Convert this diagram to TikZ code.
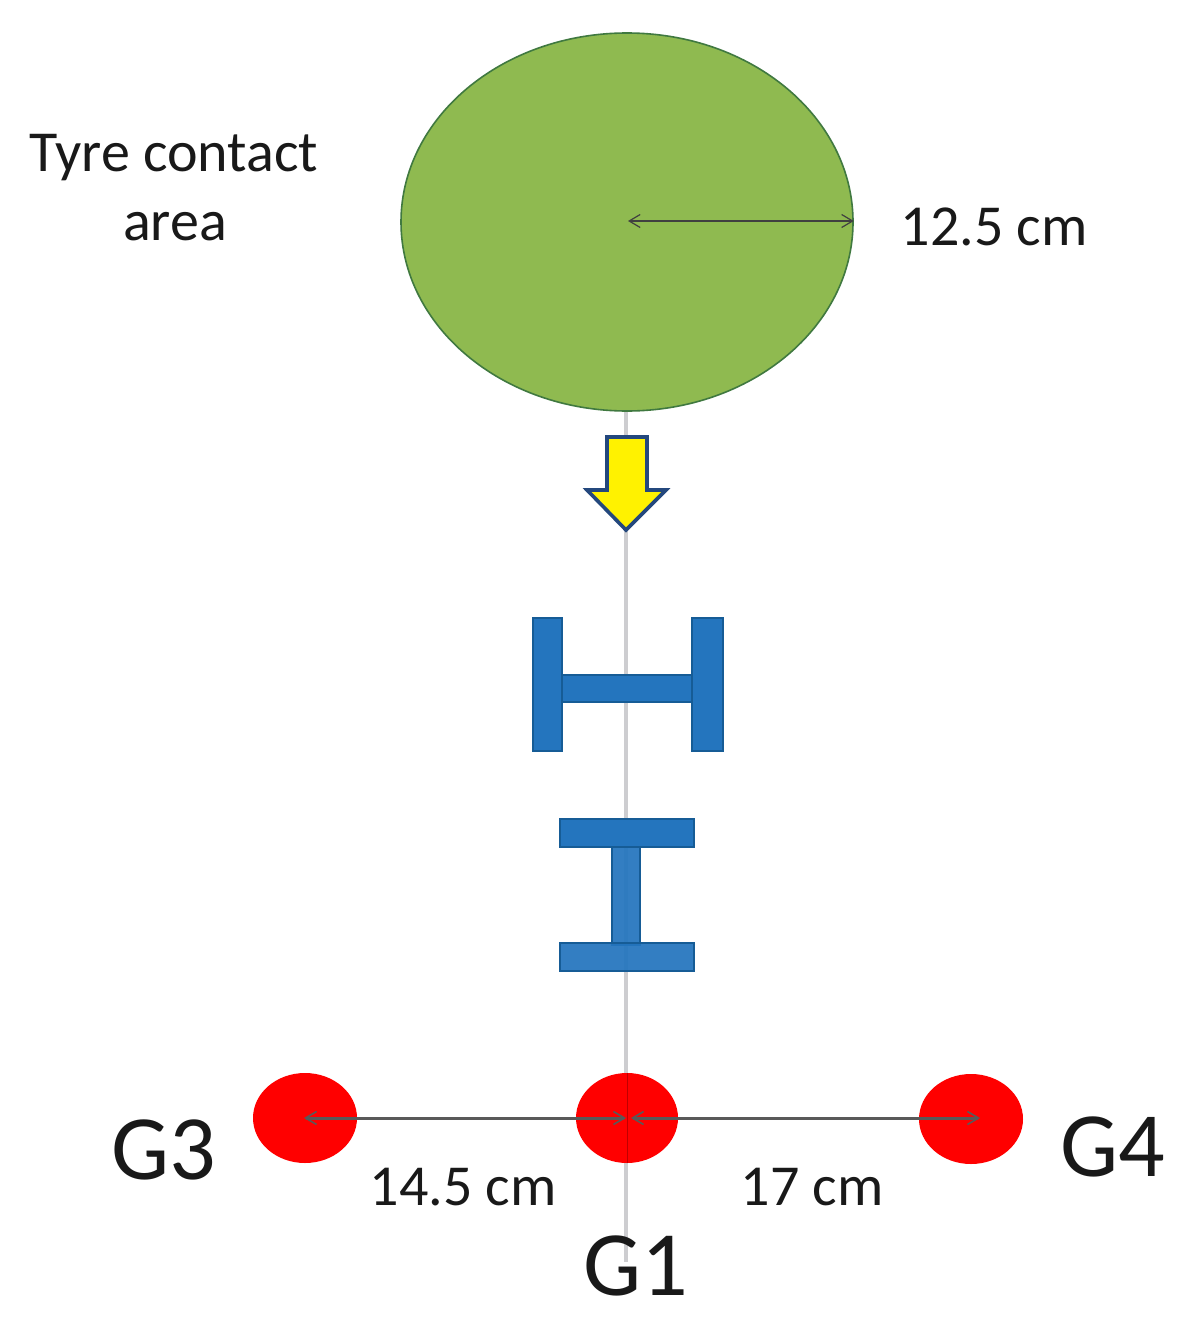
\documentclass[tikz,border=0pt]{standalone}
\usepackage{fontspec}
\setmainfont{Carlito}
\usetikzlibrary{shapes.geometric,arrows.meta}
\tikzset{
  x=1pt,y=-1pt,
  tyre/.style={ellipse,draw=green!30!black!75!white,line width=1.6pt,fill={rgb,255:red,143;green,186;blue,80},inner sep=0,minimum width=452,minimum height=378},
  gauge/.style={ellipse,fill=red,inner sep=0,minimum width=104,minimum height=90},
  beam/.style={rectangle,draw={rgb,255:red,22;green,92;blue,150},line width=2.2pt,fill={rgb,255:red,36;green,117;blue,190},inner sep=0},
  axisline/.style={draw={rgb,255:red,205;green,205;blue,208},line width=4pt},
  dim/.style={draw=black!75,line width=1.4pt,{Straight Barb[length=11pt,width=13pt,line width=1.2pt]}-{Straight Barb[length=11pt,width=13pt,line width=1.2pt]}},
  dimlow/.style={draw=black!65,line width=3pt,{Straight Barb[length=11pt,width=13pt,line width=1.6pt]}-{Straight Barb[length=11pt,width=13pt,line width=1.6pt]}},
  small/.style={font=\fontsize{58}{66}\selectfont,text=black!90,inner sep=0},
  big/.style={font=\fontsize{92}{100}\selectfont,text=black!90,inner sep=0},
}
\begin{document}
\begin{tikzpicture}
\useasboundingbox (0,0) rectangle (1196,1327);
\fill[white] (0,0) rectangle (1196,1327);
\coordinate (axisend) at (626,1262);
\node[tyre] (tyre) at (627,222) {};
\draw[axisline] (tyre.south) ++(-1,0) coordinate (axisstart) -- (axisend);
% load arrow
\draw[draw={rgb,255:red,36;green,72;blue,125},line width=3.6pt,fill=yellow,line join=miter]
  (607,437) -- (647,437) -- (647,490) -- (666,490) -- (626,530) -- (587,490) -- (607,490) -- cycle;
% H beam
\node[beam,minimum width=130,minimum height=27] (hweb) at (627,688.5) {};
\node[beam,minimum width=29,minimum height=133] (hl) at (547.5,684.5) {};
\node[beam,minimum width=31,minimum height=133] (hr) at (707.5,684.5) {};
% I beam
\node[beam,minimum width=28,minimum height=100,fill opacity=.93] (iweb) at (626,895) {};
\node[beam,minimum width=134,minimum height=28] (itop) at (627,833) {};
\node[beam,minimum width=134,minimum height=28,fill opacity=.93] (ibot) at (627,957) {};
% gauges
\node[gauge] (g3) at (305,1118) {};
\node[gauge,minimum width=102] (g1) at (627,1118) {};
\node[gauge] (g4) at (971,1119) {};
\draw[draw=red!75!black,line width=1pt] (g1.north) -- (g1.south);
% dimensions
\coordinate (rc) at (628,221);
\draw[dim] (rc) -- (tyre.east |- rc);
\coordinate (d1l) at (304,1118); \coordinate (d1r) at (626,1118);
\coordinate (d2l) at (631,1118); \coordinate (d2r) at (980,1118);
\draw[dimlow] (d1l) -- (d1r);
\draw[dimlow] (d2l) -- (d2r);
% labels
\node[small] (l1) at (174,158) {Tyre contact};
\node[small] (l2) at (175,227) {area};
\node[small] (l3) at (994,227) {12.5 cm};
\node[small] (l4) at (463,1187) {14.5 cm};
\node[small] (l5) at (812,1187) {17 cm};
\node[big] (g3t) at (164,1150) {G3};
\node[big] (g4t) at (1113,1147) {G4};
\node[big] (g1t) at (636,1266) {G1};
\end{tikzpicture}
\end{document}
